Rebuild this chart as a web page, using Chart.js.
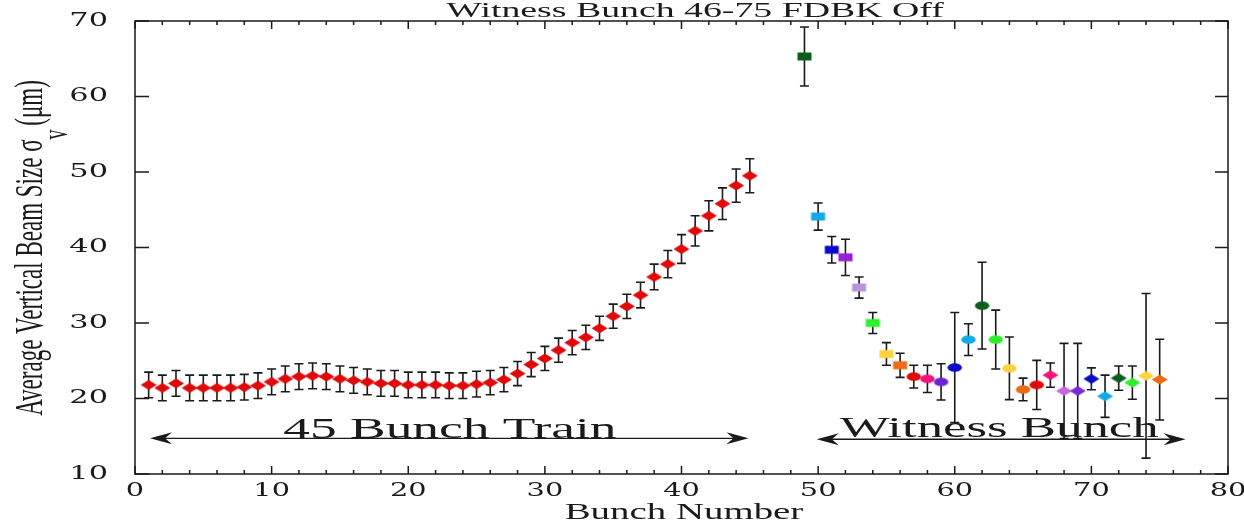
<!DOCTYPE html>
<html>
<head>
<meta charset="utf-8">
<script src="https://cdn.jsdelivr.net/npm/chart.js@4.4.1/dist/chart.umd.min.js"></script>
<style>
  html, body { margin: 0; padding: 0; background: #fff; }
  #wrap { width: 1244px; height: 523px; }
</style>
</head>
<body>
<div id="wrap"><canvas id="beamChart" width="1244" height="523"></canvas></div>
<script>
// 45 bunch train (red diamonds)
const trainBunch = [1, 2, 3, 4, 5, 6, 7, 8, 9, 10, 11, 12, 13, 14, 15, 16, 17, 18, 19, 20,
  21, 22, 23, 24, 25, 26, 27, 28, 29, 30, 31, 32, 33, 34, 35, 36, 37, 38, 39, 40, 41, 42, 43, 44, 45];
const trainSize = [21.8, 21.4, 22.0, 21.4, 21.4, 21.4, 21.4, 21.5, 21.7, 22.2,
  22.6, 22.9, 23.0, 22.9, 22.6, 22.4, 22.2, 22.0, 22.0, 21.8,
  21.8, 21.8, 21.7, 21.7, 21.9, 22.1, 22.5, 23.3, 24.5, 25.3,
  26.4, 27.4, 28.1, 29.3, 30.9, 32.2, 33.7, 36.1, 37.8, 39.8,
  42.2, 44.2, 45.8, 48.2, 49.5];
const trainErr = [1.7, 1.7, 1.7, 1.7, 1.7, 1.7, 1.7, 1.7, 1.7, 1.7,
  1.7, 1.7, 1.7, 1.7, 1.7, 1.7, 1.7, 1.7, 1.7, 1.7,
  1.7, 1.7, 1.7, 1.7, 1.7, 1.6, 1.6, 1.6, 1.6, 1.6,
  1.6, 1.6, 1.6, 1.6, 1.6, 1.6, 1.7, 1.7, 1.8, 1.9,
  2.0, 2.0, 2.1, 2.2, 2.25];

// witness bunches
const witnessBunch = [49, 50, 51, 52, 53, 54, 55, 56, 57, 58, 59, 60, 61, 62,
  63, 64, 65, 66, 67, 68, 69, 70, 71, 72, 73, 74, 75];
const witnessSize = [65.3, 44.1, 39.7, 38.7, 34.7, 30.0, 25.9, 24.4, 22.9, 22.6, 22.2, 24.1, 27.8, 32.3,
  27.8, 24.0, 21.2, 21.8, 23.1, 21.0, 21.0, 22.6, 20.3, 22.7, 22.1, 23.0, 22.5];
const witnessErr = [3.9, 1.8, 1.75, 2.4, 1.4, 1.4, 1.5, 1.6, 1.5, 1.8, 2.4, 7.3, 2.1, 5.75,
  3.9, 4.15, 1.5, 3.25, 1.6, 6.3, 6.3, 1.45, 2.8, 1.6, 2.2, 10.9, 5.35];

const xTicks = [0, 10, 20, 30, 40, 50, 60, 70, 80];
const yTicks = [10, 20, 30, 40, 50, 60, 70];

// marker styles for the witness points
const witnessColors = ['#0b5e1c', '#12a9e8', '#0a0acc', '#9a1fd4', '#b894d8', '#2cf02c', '#fcd33c', '#ef6a14',
  '#e00808', '#f5137e', '#6f22d4', '#0a0acc', '#12a9e8', '#0b5e1c', '#2cf02c', '#fcd33c', '#ef6a14',
  '#e00808', '#f5137e', '#c068e0', '#7a2ad4', '#0a0acc', '#12a9e8', '#0b5e1c', '#2cf02c', '#fcd33c', '#ef6a14'];
const witnessShapes = ['rect', 'rect', 'rect', 'rect', 'rect', 'rect', 'rect', 'rect',
  'ellipse', 'ellipse', 'ellipse', 'ellipse', 'ellipse', 'ellipse', 'ellipse', 'ellipse', 'ellipse', 'ellipse',
  'diamond', 'diamond', 'diamond', 'diamond', 'diamond', 'diamond', 'diamond', 'diamond', 'diamond'];

const INK = '#1a1a1a';

// small canvases used as point styles (the picture is stretched sideways)
function marker(shape, color) {
  const c = document.createElement('canvas');
  c.width = 17; c.height = 11;
  const g = c.getContext('2d');
  g.fillStyle = color;
  g.beginPath();
  if (shape === 'diamond') {
    g.moveTo(0.5, 5.5); g.lineTo(8.5, 0.5); g.lineTo(16.5, 5.5); g.lineTo(8.5, 10.5);
  } else if (shape === 'rect') {
    g.rect(1.5, 1.5, 14, 8);
  } else {
    g.ellipse(8.5, 5.5, 7.2, 4.3, 0, 0, Math.PI * 2);
  }
  g.closePath();
  g.fill();
  return c;
}

function stretchedText(ctx, text, x, y, font, sx, align) {
  ctx.save();
  ctx.translate(x, y);
  ctx.scale(sx, 1);
  ctx.font = font;
  ctx.textAlign = align || 'center';
  ctx.fillText(text, 0, 0);
  ctx.restore();
}

function arrowHead(ctx, tx, y, dir) {
  ctx.beginPath();
  ctx.moveTo(tx, y);
  ctx.lineTo(tx + dir * 22, y - 6);
  ctx.lineTo(tx + dir * 15, y);
  ctx.lineTo(tx + dir * 22, y + 6);
  ctx.closePath();
  ctx.fill();
}

function doubleArrow(ctx, x1, x2, y) {
  ctx.beginPath();
  ctx.moveTo(x1 + 4, y);
  ctx.lineTo(x2 - 4, y);
  ctx.stroke();
  arrowHead(ctx, x1, y, 1);
  arrowHead(ctx, x2, y, -1);
}

const errorBars = {
  id: 'errorBars',
  beforeDatasetsDraw(chart) {
    const { ctx, scales: { x, y } } = chart;
    ctx.save();
    ctx.strokeStyle = INK;
    ctx.lineWidth = 1.6;
    chart.data.datasets.forEach(ds => {
      ds.data.forEach((p, i) => {
        const px = x.getPixelForValue(p.x);
        const top = y.getPixelForValue(p.y + ds.errors[i]);
        const bot = y.getPixelForValue(p.y - ds.errors[i]);
        ctx.beginPath();
        ctx.moveTo(px, top); ctx.lineTo(px, bot);
        ctx.moveTo(px - 4.5, top); ctx.lineTo(px + 4.5, top);
        ctx.moveTo(px - 4.5, bot); ctx.lineTo(px + 4.5, bot);
        ctx.stroke();
      });
    });
    ctx.restore();
  }
};

const frame = {
  id: 'frame',
  afterDraw(chart) {
    const { ctx, chartArea: a, scales: { x, y } } = chart;
    ctx.save();
    ctx.strokeStyle = INK;
    ctx.fillStyle = INK;
    ctx.lineWidth = 1.5;
    ctx.strokeRect(a.left, a.top, a.right - a.left, a.bottom - a.top);

    // x ticks, bottom and top, minor every 2
    ctx.beginPath();
    for (let v = 0; v <= 80; v += 2) {
      const px = x.getPixelForValue(v);
      const len = v % 10 === 0 ? 8 : 4;
      ctx.moveTo(px, a.bottom); ctx.lineTo(px, a.bottom - len);
      ctx.moveTo(px, a.top); ctx.lineTo(px, a.top + len);
    }
    yTicks.forEach(v => {
      const py = y.getPixelForValue(v);
      ctx.moveTo(a.left, py); ctx.lineTo(a.left + 14, py);
      ctx.moveTo(a.right, py); ctx.lineTo(a.right - 13, py);
    });
    ctx.stroke();

    // tick labels
    ctx.textBaseline = 'alphabetic';
    xTicks.forEach(v => {
      stretchedText(ctx, String(v), x.getPixelForValue(v), a.bottom + 22, '18px "DejaVu Serif"', 1.6, 'center');
    });
    ctx.textBaseline = 'middle';
    yTicks.forEach(v => {
      stretchedText(ctx, String(v), 108, y.getPixelForValue(v), '19px "DejaVu Serif"', 1.6, 'right');
    });

    // titles
    ctx.textBaseline = 'alphabetic';
    stretchedText(ctx, 'Witness Bunch 46-75 FDBK Off', 695, 17, '21px "Liberation Serif"', 1.8, 'center');
    stretchedText(ctx, 'Bunch Number', 684, 519, '24px "Liberation Serif"', 1.62, 'center');

    // y title, rotated, with subscript v after sigma
    ctx.save();
    ctx.translate(42, 247);
    ctx.rotate(-Math.PI / 2);
    ctx.scale(1, 1.75);
    ctx.textAlign = 'left';
    const ta = 'Average Vertical Beam Size σ';
    const tb = ' (μm)';
    ctx.font = '20px "Liberation Serif"';
    const wv = ctx.measureText('v').width;
    ctx.font = '23px "Liberation Serif"';
    const wa = ctx.measureText(ta).width;
    const wb = ctx.measureText(tb).width;
    const x0 = -(wa + wv + wb) / 2;
    ctx.fillText(ta, x0, 0);
    ctx.fillText(tb, x0 + wa + wv - 2, 0);
    ctx.font = '20px "Liberation Serif"';
    ctx.fillText('v', x0 + wa, 14);
    ctx.restore();

    // region annotations
    ctx.lineWidth = 1.3;
    doubleArrow(ctx, x.getPixelForValue(1.1), x.getPixelForValue(44.9), y.getPixelForValue(14.73));
    doubleArrow(ctx, x.getPixelForValue(49.9), x.getPixelForValue(76.9), y.getPixelForValue(14.6));
    stretchedText(ctx, '45 Bunch Train', x.getPixelForValue(23.05), y.getPixelForValue(14.8), '30px "Liberation Serif"', 1.78, 'center');
    stretchedText(ctx, 'Witness Bunch', x.getPixelForValue(63.25), y.getPixelForValue(14.95), '30px "Liberation Serif"', 1.76, 'center');
    ctx.restore();
  }
};

const redDiamond = marker('diamond', '#e00808');
const witnessMarkers = witnessShapes.map((s, i) => marker(s, witnessColors[i]));

new Chart(document.getElementById('beamChart'), {
  type: 'scatter',
  data: {
    datasets: [{
      label: '45 Bunch Train',
      data: trainBunch.map((b, i) => ({ x: b, y: trainSize[i] })),
      errors: trainErr,
      pointStyle: redDiamond,
      pointRadius: 7,
    }, {
      label: 'Witness Bunch',
      data: witnessBunch.map((b, i) => ({ x: b, y: witnessSize[i] })),
      errors: witnessErr,
      pointStyle: witnessMarkers,
      pointRadius: 7,
    }],
  },
  options: {
    responsive: false,
    animation: false,
    devicePixelRatio: 1,
    layout: { padding: { left: 135, right: 16, top: 21, bottom: 49 } },
    plugins: { legend: { display: false }, tooltip: { enabled: false } },
    scales: {
      x: { type: 'linear', min: 0, max: 80, display: false },
      y: { type: 'linear', min: 10, max: 70, display: false },
    },
  },
  plugins: [errorBars, frame],
});
</script>
</body>
</html>
